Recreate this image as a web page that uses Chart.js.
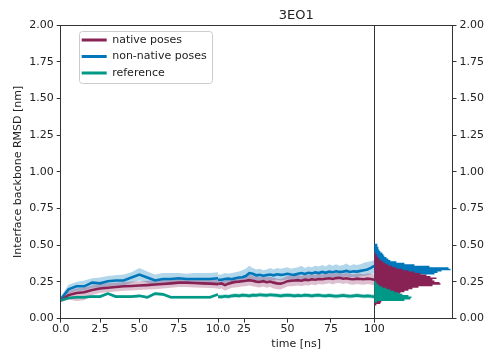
<!DOCTYPE html>
<html><head><meta charset="utf-8">
<script src="https://cdn.jsdelivr.net/npm/chart.js@4.4.0/dist/chart.umd.min.js"></script>
<style>html,body{margin:0;padding:0;background:#fff}</style>
</head><body>
<canvas id="c" width="488" height="361"></canvas>
<script>
// ---- data ----
const tA = [0,0.5,1,1.5,2,2.5,3,3.5,4,4.5,5,5.5,6,6.5,7,7.5,8,8.5,9,9.5,10];
const tB = [10,12,14,16,18,20,22,24,26,28,30,32,34,36,38,40,42,44,46,48,50,52,54,56,58,60,62,64,66,68,70,72,74,76,78,80,82,84,86,88,90,92,94,96,98,100];

const nativeA    = [0.125,0.16,0.175,0.18,0.195,0.205,0.21,0.215,0.22,0.222,0.225,0.228,0.232,0.236,0.24,0.245,0.245,0.242,0.24,0.238,0.235];
const nativeAHi  = [0.14,0.19,0.205,0.21,0.225,0.235,0.24,0.245,0.25,0.252,0.255,0.258,0.262,0.266,0.27,0.275,0.275,0.272,0.27,0.268,0.265];
const nativeALo  = [0.11,0.13,0.12,0.125,0.16,0.175,0.18,0.185,0.19,0.192,0.195,0.198,0.2,0.205,0.21,0.215,0.215,0.212,0.21,0.208,0.205];
const nonNativeA   = [0.13,0.2,0.22,0.22,0.245,0.24,0.255,0.26,0.26,0.28,0.3,0.28,0.26,0.27,0.27,0.275,0.27,0.27,0.27,0.27,0.275];
const nonNativeAHi = [0.15,0.23,0.25,0.26,0.275,0.28,0.29,0.295,0.3,0.315,0.345,0.32,0.3,0.31,0.31,0.31,0.305,0.31,0.31,0.31,0.315];
const nonNativeALo = [0.12,0.17,0.19,0.19,0.21,0.21,0.22,0.225,0.225,0.245,0.26,0.245,0.225,0.235,0.235,0.24,0.235,0.235,0.235,0.235,0.24];
const referenceA   = [0.125,0.14,0.145,0.145,0.15,0.15,0.17,0.15,0.15,0.15,0.155,0.145,0.17,0.165,0.145,0.145,0.145,0.145,0.145,0.145,0.165];
const referenceAHi = [0.135,0.15,0.155,0.155,0.16,0.16,0.18,0.16,0.16,0.16,0.165,0.155,0.18,0.175,0.155,0.155,0.155,0.155,0.155,0.155,0.175];
const referenceALo = [0.115,0.13,0.135,0.135,0.14,0.14,0.16,0.14,0.14,0.14,0.145,0.135,0.16,0.155,0.135,0.135,0.135,0.135,0.135,0.135,0.155];

const nativeB   = [0.235,0.24,0.228,0.238,0.245,0.25,0.252,0.255,0.258,0.262,0.258,0.252,0.25,0.255,0.248,0.252,0.245,0.24,0.238,0.245,0.255,0.258,0.26,0.262,0.258,0.265,0.262,0.268,0.265,0.27,0.268,0.272,0.275,0.27,0.276,0.278,0.272,0.275,0.27,0.268,0.272,0.27,0.268,0.272,0.27,0.265];
const nativeBHi = [0.265,0.272,0.26,0.27,0.278,0.282,0.285,0.29,0.295,0.3,0.29,0.285,0.282,0.29,0.28,0.285,0.278,0.272,0.27,0.278,0.29,0.292,0.295,0.298,0.29,0.3,0.295,0.302,0.298,0.305,0.3,0.308,0.31,0.305,0.31,0.312,0.305,0.31,0.305,0.3,0.308,0.305,0.3,0.308,0.305,0.3];
const nativeBLo = [0.2,0.205,0.19,0.2,0.21,0.212,0.215,0.218,0.22,0.225,0.22,0.215,0.212,0.218,0.21,0.215,0.205,0.2,0.198,0.208,0.218,0.22,0.222,0.225,0.22,0.228,0.225,0.232,0.228,0.235,0.232,0.235,0.24,0.232,0.24,0.242,0.235,0.24,0.232,0.23,0.235,0.232,0.23,0.235,0.232,0.225];
const nonNativeB   = [0.265,0.265,0.27,0.272,0.268,0.275,0.28,0.282,0.29,0.31,0.305,0.295,0.298,0.292,0.296,0.3,0.295,0.302,0.298,0.3,0.305,0.3,0.298,0.306,0.31,0.304,0.312,0.308,0.315,0.31,0.318,0.312,0.32,0.316,0.322,0.318,0.32,0.325,0.318,0.322,0.32,0.325,0.33,0.335,0.345,0.36];
const nonNativeBHi = [0.3,0.3,0.31,0.305,0.31,0.315,0.32,0.33,0.34,0.36,0.345,0.335,0.34,0.33,0.335,0.345,0.335,0.345,0.34,0.345,0.35,0.34,0.345,0.35,0.36,0.345,0.355,0.35,0.36,0.355,0.365,0.355,0.37,0.36,0.37,0.36,0.365,0.375,0.36,0.37,0.365,0.37,0.38,0.385,0.39,0.4];
const nonNativeBLo = [0.235,0.235,0.24,0.24,0.235,0.245,0.25,0.25,0.255,0.27,0.265,0.26,0.26,0.255,0.26,0.262,0.258,0.265,0.26,0.262,0.268,0.262,0.26,0.27,0.272,0.265,0.275,0.27,0.278,0.272,0.28,0.275,0.282,0.278,0.285,0.28,0.282,0.288,0.28,0.285,0.282,0.288,0.29,0.295,0.3,0.31];
const referenceB   = [0.15,0.148,0.152,0.15,0.155,0.158,0.155,0.16,0.158,0.155,0.16,0.158,0.162,0.16,0.158,0.162,0.16,0.158,0.155,0.158,0.16,0.158,0.155,0.158,0.156,0.16,0.158,0.155,0.158,0.16,0.156,0.155,0.158,0.155,0.152,0.155,0.158,0.155,0.152,0.155,0.158,0.155,0.152,0.155,0.152,0.15];
const referenceBHi = [0.165,0.162,0.168,0.165,0.17,0.172,0.17,0.175,0.172,0.17,0.175,0.172,0.178,0.175,0.172,0.176,0.175,0.172,0.17,0.172,0.175,0.172,0.17,0.172,0.17,0.175,0.172,0.17,0.172,0.175,0.17,0.17,0.172,0.17,0.168,0.17,0.172,0.17,0.168,0.17,0.172,0.17,0.168,0.17,0.168,0.165];
const referenceBLo = [0.135,0.134,0.138,0.136,0.14,0.143,0.14,0.145,0.143,0.14,0.145,0.143,0.147,0.145,0.143,0.147,0.145,0.143,0.14,0.143,0.145,0.143,0.14,0.143,0.142,0.145,0.143,0.14,0.143,0.145,0.142,0.14,0.143,0.14,0.137,0.14,0.143,0.14,0.137,0.14,0.143,0.14,0.137,0.14,0.137,0.135];

// histogram (bin edges in nm, counts per bin)
const histEdges = [0.09,0.10,0.11,0.12,0.13,0.14,0.15,0.16,0.17,0.18,0.19,0.20,0.21,0.22,0.23,0.24,0.25,0.26,0.27,0.28,0.29,0.30,0.31,0.32,0.33,0.34,0.35,0.36,0.37,0.38,0.39,0.40,0.41,0.42,0.43,0.44,0.45,0.46,0.47,0.48,0.49,0.50,0.51,0.52];
const nonNativeHist = [0,0,0,0,0,0,0,0,0,0,0,0,0,0,0,3,6,12,20,30,42,60,63,67,76,74,55,40,30,22,16,14,12,10,9,8,6,5,4,4,3,3,0];
const nativeHist    = [2,6,7,10,14,16,18,22,26,30,34,38,44,58,66,65,60,58,62,56,52,46,40,34,28,22,18,14,11,9,7,5,4,3,2,1,0,0,0,0,0,0,0];
const referenceHist = [0,0,3,30,36,37,34,28,24,20,16,12,8,5,3,2,1,0,0,0,0,0,0,0,0,0,0,0,0,0,0,0,0,0,0,0,0,0,0,0,0,0,0];

const yTicks = [0,0.25,0.5,0.75,1,1.25,1.5,1.75,2];
const xTicksA = [0,2.5,5,7.5,10];
const xTicksB = [25,50,75,100];
const labels = {native: 'native poses', nonNative: 'non-native poses', reference: 'reference'};

// ---- styling ----
const COL = {native: '#882255', nonNative: '#0077BB', reference: '#009988'};
const BAND = {native: 'rgba(136,34,85,0.28)', nonNative: 'rgba(0,119,187,0.30)', reference: 'rgba(0,153,136,0.30)'};
const CLEAR = 'rgba(0,0,0,0)';
const AX = '#333333';

Chart.defaults.font.family = "'DejaVu Sans', sans-serif";
Chart.defaults.font.size = 11;
Chart.defaults.color = '#222222';

const pts = (ts, vs) => ts.map((t, i) => ({x: t, y: vs[i]}));
function histShape(counts) {
  const p = [{x: 0, y: histEdges[0]}];
  counts.forEach((c, i) => { p.push({x: c, y: histEdges[i]}, {x: c, y: histEdges[i + 1]}); });
  p.push({x: 0, y: histEdges[histEdges.length - 1]});
  return p;
}
const lineDs = (key, ts, vs, xid, lbl, ord) => ({
  label: lbl ? labels[key] : '', data: pts(ts, vs), xAxisID: xid, yAxisID: 'y',
  borderColor: COL[key], backgroundColor: COL[key], borderWidth: 2.6, pointRadius: 0, tension: 0, fill: false, order: ord
});
const series = [
  ['native', nativeA, nativeAHi, nativeALo, nativeB, nativeBHi, nativeBLo, 1],
  ['nonNative', nonNativeA, nonNativeAHi, nonNativeALo, nonNativeB, nonNativeBHi, nonNativeBLo, 2],
  ['reference', referenceA, referenceAHi, referenceALo, referenceB, referenceBHi, referenceBLo, 0]
];
const datasets = [];
series.forEach(s => datasets.push(lineDs(s[0], tA, s[1], 'x0', true, s[7])));
series.forEach(s => datasets.push(lineDs(s[0], tB, s[4], 'x1', false, s[7])));
series.forEach(s => {
  [['x0', tA, s[2], s[3]], ['x1', tB, s[5], s[6]]].forEach(([xid, ts, hi, lo]) => {
    datasets.push({label: '', data: pts(ts, lo), xAxisID: xid, yAxisID: 'y', borderColor: CLEAR, borderWidth: 1, pointRadius: 0, fill: false, order: 20});
    datasets.push({label: '', data: pts(ts, hi), xAxisID: xid, yAxisID: 'y', borderColor: CLEAR, borderWidth: 1, backgroundColor: BAND[s[0]], pointRadius: 0, fill: '-1', order: 20});
  });
});
[['nonNative', nonNativeHist, 12], ['native', nativeHist, 11], ['reference', referenceHist, 10]].forEach(([key, counts, ord]) => {
  datasets.push({label: '', data: histShape(counts), xAxisID: 'xh', yAxisID: 'y', borderColor: CLEAR, borderWidth: 1,
    backgroundColor: COL[key], pointRadius: 0, tension: 0, fill: 'shape', order: ord});
});

const tickGrid = {drawOnChartArea: false, drawTicks: true, tickLength: 4, color: AX, lineWidth: 1};
const border = {display: true, color: AX, width: 1};
const setTicks = arr => (s => { s.ticks = arr.map(v => ({value: v})); });
const xTitle = text => ({display: true, text, padding: {top: 2, bottom: 4}});
const topTitle = text => ({display: true, text, font: {size: 13}, padding: {top: 1, bottom: 2}});

const frameAndLegend = {
  id: 'frameAndLegend',
  afterLayout(chart) {
    const lg = chart.legend, ca = chart.chartArea;
    lg.left = ca.left + 15.5; lg.right = lg.left + 170; lg.width = 170;
    lg.top = ca.top + 4; lg.bottom = ca.bottom; lg.height = lg.bottom - lg.top;
  },
  beforeDraw(chart) {
    const ctx = chart.ctx, ca = chart.chartArea;
    ctx.save();
    ctx.fillStyle = 'rgba(255,255,255,0.8)';
    ctx.strokeStyle = '#cccccc';
    ctx.lineWidth = 1;
    ctx.beginPath();
    ctx.roundRect(Math.round(ca.left + 18) + 0.5, Math.round(ca.top + 6) + 0.5, 133, 52, 3);
    ctx.fill(); ctx.stroke();
    ctx.restore();
  }
};

new Chart(document.getElementById('c'), {
  type: 'line',
  data: {datasets},
  options: {
    responsive: false, animation: false, events: [],
    layout: {padding: {left: 7, right: 1, top: 6.4, bottom: 6}},
    plugins: {
      tooltip: {enabled: false},
      title: {display: false},
      legend: {
        display: true, position: 'chartArea', align: 'start',
        labels: {
          boxWidth: 25, boxHeight: 3, padding: 5.5, color: '#222222', font: {size: 11},
          sort: (a, b) => a.datasetIndex - b.datasetIndex,
          generateLabels: chart => Chart.defaults.plugins.legend.labels.generateLabels(chart)
            .filter(l => l.text)
            .map(l => Object.assign(l, {fillStyle: l.strokeStyle, strokeStyle: CLEAR, lineWidth: 0}))
        }
      }
    },
    scales: {
      x0: {type: 'linear', position: 'bottom', stack: 'bx', stackWeight: 157, weight: 1, min: 0, max: 10,
        afterBuildTicks: setTicks(xTicksA),
        ticks: {callback: v => v.toFixed(1), padding: 0, maxRotation: 0, autoSkip: false},
        grid: tickGrid, border, title: xTitle(' ')},
      x1: {type: 'linear', position: 'bottom', stack: 'bx', stackWeight: 156, weight: 2, min: 10, max: 100,
        afterBuildTicks: setTicks(xTicksB),
        ticks: {callback: v => String(v), padding: 0, maxRotation: 0, autoSkip: false},
        grid: tickGrid, border, title: xTitle('time [ns]')},
      xh: {type: 'linear', position: 'bottom', stack: 'bx', stackWeight: 78, weight: 3, min: 0, max: 78,
        afterBuildTicks: setTicks([0]),
        ticks: {callback: () => ' ', padding: 0, maxRotation: 0},
        grid: {drawOnChartArea: true, drawTicks: true, tickLength: 4, tickColor: CLEAR, color: AX, lineWidth: 1},
        border, title: xTitle(' ')},
      xt0: {type: 'linear', position: 'top', stack: 'tx', stackWeight: 157, weight: 3, min: 0, max: 10,
        ticks: {display: false}, grid: {display: false, drawTicks: false}, border, title: topTitle(' ')},
      xt1: {type: 'linear', position: 'top', stack: 'tx', stackWeight: 156, weight: 2, min: 10, max: 100,
        ticks: {display: false}, grid: {display: false, drawTicks: false}, border, title: topTitle('3EO1')},
      xth: {type: 'linear', position: 'top', stack: 'tx', stackWeight: 78, weight: 1, min: 0, max: 78,
        ticks: {display: false}, grid: {display: false, drawTicks: false}, border, title: topTitle(' ')},
      y: {type: 'linear', position: 'left', min: 0, max: 2,
        afterBuildTicks: setTicks(yTicks),
        ticks: {callback: v => v.toFixed(2), padding: 3},
        grid: tickGrid, border,
        title: {display: true, text: 'Interface backbone RMSD [nm]', padding: {top: 5, bottom: 1}}},
      y2: {type: 'linear', position: 'right', min: 0, max: 2,
        afterBuildTicks: setTicks(yTicks),
        ticks: {callback: v => v.toFixed(2), padding: 3},
        grid: tickGrid, border}
    }
  },
  plugins: [frameAndLegend]
});
</script>
</body></html>
